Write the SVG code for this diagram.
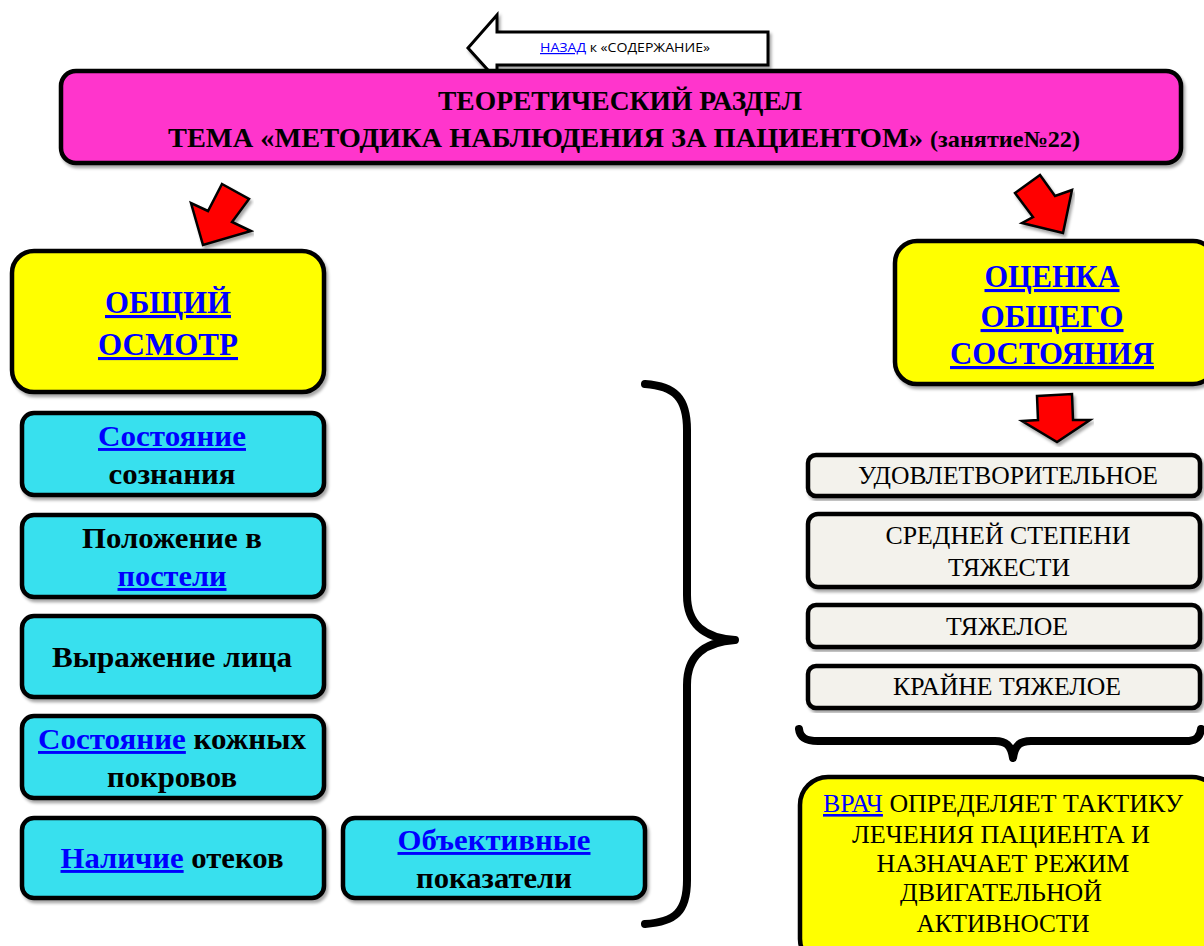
<svg xmlns="http://www.w3.org/2000/svg" width="1204" height="946" viewBox="0 0 1204 946">
<defs>
<filter id="sh" x="-5%" y="-5%" width="110%" height="115%">
<feDropShadow dx="2" dy="3" stdDeviation="1.5" flood-color="#000" flood-opacity="0.35"/>
</filter>
<style>
.box{stroke:#000;stroke-width:4.5;filter:url(#sh)}
.pink{fill:#FF35CC}
.yel{fill:#FFFF00}
.cyan{fill:#38E0EE}
.grey{fill:#F3F2EC}
.t{font-family:"Liberation Serif","Times New Roman",serif;text-anchor:middle;fill:#000}
.b{font-weight:bold}
.lnk{fill:#0000FF;text-decoration:underline}
.red{fill:#FF0000;stroke:#000;stroke-width:2.5;stroke-linejoin:miter;filter:url(#sh)}
.brace{fill:none;stroke:#000;stroke-width:8;stroke-linecap:round;stroke-linejoin:round}
</style>
</defs>
<rect width="1204" height="946" fill="#FFFFFF"/>

<g id="back">
<path d="M768,32 L497,32 L497,15 L468,48 L497,80 L497,65 L768,65 Z" fill="#FFFFFF" stroke="#000" stroke-width="3" filter="url(#sh)"/>
<text x="625" y="52" font-family="'Open Sans','Liberation Sans',sans-serif" font-size="12" text-anchor="middle" fill="#000" textLength="170" lengthAdjust="spacingAndGlyphs"><tspan fill="#0000FF" text-decoration="underline">НАЗАД</tspan> к «СОДЕРЖАНИЕ»</text>
</g>

<g id="header">
<rect class="box pink" x="61" y="71" width="1120" height="92" rx="15"/>
<text class="t b" x="620" y="110" font-size="27" textLength="364" lengthAdjust="spacingAndGlyphs">ТЕОРЕТИЧЕСКИЙ РАЗДЕЛ</text>
<text class="t b" x="624" y="147" font-size="27" textLength="912" lengthAdjust="spacingAndGlyphs">ТЕМА «МЕТОДИКА НАБЛЮДЕНИЯ ЗА ПАЦИЕНТОМ» <tspan font-size="23">(занятие№22)</tspan></text>
</g>

<g id="connectors">
<polygon class="red" points="222,184 249,199 232,222 251,231 203,245 191,203 208,211"/>
<polygon class="red" points="1040,175 1055,196 1072,190 1063,233 1022,223 1033,217 1015,193"/>
<polygon class="red" points="1037,396 1072,394 1073,420 1090,420 1057,442 1022,421 1038,420"/>
<path class="brace" d="M645,384 C675,386 687,398 687,430 L687,595 C687,625 705,638 735,640 C705,642 687,655 687,685 L687,880 C687,912 675,922 645,924"/>
<path class="brace" d="M799,729 C800,738 806,741 818,741 L995,741 C1006,741 1011,745 1013,758 C1015,745 1020,741 1031,741 L1186,741 C1196,741 1200,737 1201,729"/>
</g>

<g id="general-exam">
<rect class="box yel" x="12" y="251" width="312" height="141" rx="22"/>
<text class="t b" x="168" y="313" font-size="31" textLength="126" lengthAdjust="spacingAndGlyphs"><tspan class="lnk">ОБЩИЙ</tspan></text>
<text class="t b" x="168" y="355" font-size="31" textLength="140" lengthAdjust="spacingAndGlyphs"><tspan class="lnk">ОСМОТР</tspan></text>
</g>

<g id="general-state">
<rect class="box yel" x="895" y="241" width="320" height="143" rx="22"/>
<text class="t b" x="1052" y="287" font-size="31" textLength="135" lengthAdjust="spacingAndGlyphs"><tspan class="lnk">ОЦЕНКА</tspan></text>
<text class="t b" x="1052" y="327" font-size="31" textLength="143" lengthAdjust="spacingAndGlyphs"><tspan class="lnk">ОБЩЕГО</tspan></text>
<text class="t b" x="1052" y="364" font-size="31" textLength="204" lengthAdjust="spacingAndGlyphs"><tspan class="lnk">СОСТОЯНИЯ</tspan></text>
</g>

<g id="consciousness">
<rect class="box cyan" x="22" y="413" width="302" height="82" rx="12"/>
<text class="t b" x="172" y="446" font-size="29" textLength="148" lengthAdjust="spacingAndGlyphs"><tspan class="lnk">Состояние</tspan></text>
<text class="t b" x="172" y="484" font-size="29" textLength="127" lengthAdjust="spacingAndGlyphs">сознания</text>
</g>

<g id="bed-position">
<rect class="box cyan" x="22" y="515" width="302" height="82" rx="12"/>
<text class="t b" x="172" y="548" font-size="29" textLength="180" lengthAdjust="spacingAndGlyphs">Положение в</text>
<text class="t b" x="172" y="586" font-size="29" textLength="109" lengthAdjust="spacingAndGlyphs"><tspan class="lnk">постели</tspan></text>
</g>

<g id="face">
<rect class="box cyan" x="22" y="616" width="302" height="81" rx="12"/>
<text class="t b" x="172" y="667" font-size="29" textLength="240" lengthAdjust="spacingAndGlyphs">Выражение лица</text>
</g>

<g id="skin">
<rect class="box cyan" x="22" y="716" width="302" height="82" rx="12"/>
<text class="t b" x="172" y="749" font-size="29" textLength="268" lengthAdjust="spacingAndGlyphs"><tspan class="lnk">Состояние</tspan> кожных</text>
<text class="t b" x="172" y="787" font-size="29" textLength="130" lengthAdjust="spacingAndGlyphs">покровов</text>
</g>

<g id="edema">
<rect class="box cyan" x="22" y="818" width="302" height="80" rx="12"/>
<text class="t b" x="172" y="868" font-size="29" textLength="223" lengthAdjust="spacingAndGlyphs"><tspan class="lnk">Наличие</tspan> отеков</text>
</g>

<g id="objective">
<rect class="box cyan" x="343" y="818" width="302" height="80" rx="12"/>
<text class="t b" x="494" y="850" font-size="29" textLength="193" lengthAdjust="spacingAndGlyphs"><tspan class="lnk">Объективные</tspan></text>
<text class="t b" x="494" y="888" font-size="29" textLength="156" lengthAdjust="spacingAndGlyphs">показатели</text>
</g>

<g id="satisfactory">
<rect class="box grey" x="808" y="455" width="392" height="41" rx="8"/>
<text class="t" x="1008" y="484" font-size="25" textLength="300" lengthAdjust="spacingAndGlyphs">УДОВЛЕТВОРИТЕЛЬНОЕ</text>
</g>

<g id="moderate">
<rect class="box grey" x="808" y="514" width="392" height="73" rx="10"/>
<text class="t" x="1008" y="544" font-size="25" textLength="245" lengthAdjust="spacingAndGlyphs">СРЕДНЕЙ СТЕПЕНИ</text>
<text class="t" x="1009" y="576" font-size="25" textLength="122" lengthAdjust="spacingAndGlyphs">ТЯЖЕСТИ</text>
</g>

<g id="severe">
<rect class="box grey" x="808" y="605" width="392" height="42" rx="8"/>
<text class="t" x="1007" y="635" font-size="25" textLength="122" lengthAdjust="spacingAndGlyphs">ТЯЖЕЛОЕ</text>
</g>

<g id="extremely-severe">
<rect class="box grey" x="808" y="666" width="392" height="42" rx="8"/>
<text class="t" x="1007" y="695" font-size="25" textLength="228" lengthAdjust="spacingAndGlyphs">КРАЙНЕ ТЯЖЕЛОЕ</text>
</g>

<g id="doctor">
<rect class="box yel" x="800" y="777" width="420" height="190" rx="28"/>
<text class="t" x="1003" y="812" font-size="26" textLength="360" lengthAdjust="spacingAndGlyphs"><tspan class="lnk">ВРАЧ</tspan> ОПРЕДЕЛЯЕТ ТАКТИКУ</text>
<text class="t" x="1001" y="843" font-size="26" textLength="298" lengthAdjust="spacingAndGlyphs">ЛЕЧЕНИЯ ПАЦИЕНТА И</text>
<text class="t" x="1003" y="872" font-size="26" textLength="253" lengthAdjust="spacingAndGlyphs">НАЗНАЧАЕТ РЕЖИМ</text>
<text class="t" x="1001" y="901" font-size="26" textLength="202" lengthAdjust="spacingAndGlyphs">ДВИГАТЕЛЬНОЙ</text>
<text class="t" x="1003" y="932" font-size="26" textLength="173" lengthAdjust="spacingAndGlyphs">АКТИВНОСТИ</text>
</g>
</svg>
